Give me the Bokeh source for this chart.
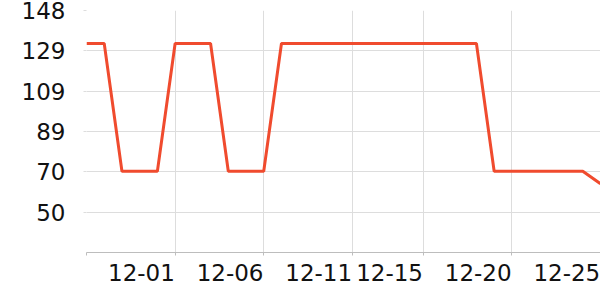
from bokeh.plotting import figure
from bokeh.models import FixedTicker, Range1d, LinearAxis
from bokeh.embed import file_html
from bokeh.resources import INLINE

dates = ["11-26", "11-27", "11-28", "11-29", "11-30", "12-01", "12-02", "12-03", "12-04", "12-05",
         "12-06", "12-07", "12-08", "12-09", "12-10", "12-11", "12-12", "12-13", "12-14", "12-15",
         "12-16", "12-17", "12-18", "12-19", "12-20", "12-21", "12-22", "12-23", "12-24", "12-25"]
values = [132, 132, 70, 70, 70, 132, 132, 132, 70, 70,
          70, 132, 132, 132, 132, 132, 132, 132, 132, 132,
          132, 132, 132, 70, 70, 70, 70, 70, 70, 64]
x_tick_labels = ["12-01", "12-06", "12-11", "12-15", "12-20", "12-25"]
y_tick_labels = ["50", "70", "89", "109", "129", "148"]

y_min, y_max = 30.6, 148.0
step = (y_max - y_min) / 6
y_ticks = [y_min + step * (k + 1) for k in range(6)]

xs = list(range(len(dates)))
x_ticks = [dates.index(l) for l in x_tick_labels]
label_shift = 1.9  # labels sit to the left of their tick (right-aligned)
x_label_pos = [t - label_shift for t in x_ticks]

FONT = "DejaVu Sans"
FS = "23px"

p = figure(width=600, height=300, output_backend="svg", toolbar_location=None,
           x_range=Range1d(0, len(dates) - 1), y_range=Range1d(y_min, y_max),
           x_axis_location=None,
           min_border_left=86, min_border_right=0, min_border_top=10, min_border_bottom=48)
p.outline_line_color = None
p.background_fill_color = "white"
p.border_fill_color = "white"

p.line(xs, values, line_color="#f04b2e", line_width=3)

# axis line + tick marks (no labels)
ax_ticks = LinearAxis(ticker=FixedTicker(ticks=[0] + x_ticks))
ax_ticks.major_label_overrides = {t: "" for t in [0] + x_ticks}
ax_ticks.major_label_text_font_size = "1px"
ax_ticks.major_label_standoff = 0
ax_ticks.axis_line_color = "#bdbdbd"
ax_ticks.major_tick_line_color = "#bdbdbd"
ax_ticks.major_tick_in = 0
ax_ticks.major_tick_out = 3
ax_ticks.minor_tick_line_color = None
p.add_layout(ax_ticks, "below")

# labels (right-aligned to ticks)
ax_lab = LinearAxis(ticker=FixedTicker(ticks=x_label_pos))
ax_lab.major_label_overrides = {t: l for t, l in zip(x_label_pos, x_tick_labels)}
ax_lab.axis_line_color = None
ax_lab.major_tick_line_color = None
ax_lab.minor_tick_line_color = None
ax_lab.major_tick_out = 0
ax_lab.major_tick_in = 0
ax_lab.major_label_text_font = FONT
ax_lab.major_label_text_font_size = FS
ax_lab.major_label_text_color = "#111111"
ax_lab.major_label_standoff = 8
p.add_layout(ax_lab, "below")

p.yaxis.ticker = FixedTicker(ticks=y_ticks)
p.yaxis.major_label_overrides = {t: l for t, l in zip(y_ticks, y_tick_labels)}
p.yaxis.axis_line_color = None
p.yaxis.major_tick_line_color = "#dddddd"
p.yaxis.major_tick_in = 0
p.yaxis.major_tick_out = 3
p.yaxis.minor_tick_line_color = None
p.yaxis.major_label_text_font = FONT
p.yaxis.major_label_text_font_size = FS
p.yaxis.major_label_text_color = "#111111"
p.yaxis.major_label_standoff = 18

p.xgrid.ticker = FixedTicker(ticks=[0] + x_ticks)
p.xgrid.grid_line_color = "#dddddd"
p.ygrid.grid_line_color = "#dddddd"

open("out.html", "w").write(file_html(p, INLINE))
